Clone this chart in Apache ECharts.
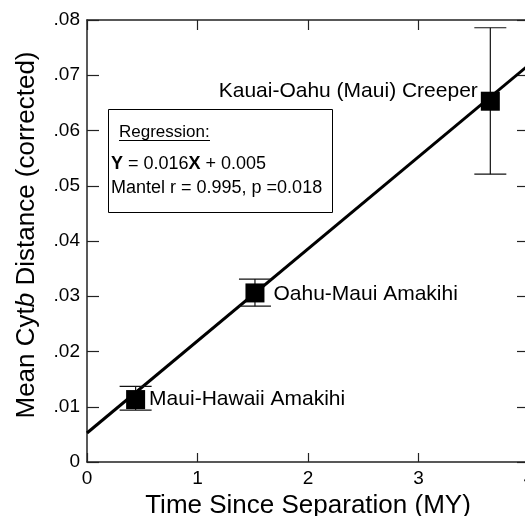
<!DOCTYPE html>
<html><head><meta charset="utf-8">
<script src="https://cdn.jsdelivr.net/npm/echarts@6/dist/echarts.min.js"></script>
<style>html,body{margin:0;padding:0;background:#fff}#c{width:525px;height:516px}</style>
</head><body><div id="c"></div>
<script>
// ---- data ----
const xTicks = [0, 1, 2, 3, 4];
const yTickLabels = ['0', '.01', '.02', '.03', '.04', '.05', '.06', '.07', '.08'];
const names = ['Maui-Hawaii Amakihi', 'Oahu-Maui Amakihi', 'Kauai-Oahu (Maui) Creeper'];
const xs = [0.44, 1.52, 3.65];
const ys = [0.0113, 0.0306, 0.0653];
const errLow = [0.0094, 0.0282, 0.0521];
const errHigh = [0.0137, 0.0331, 0.0786];
const fitX = [0, 4];
const fitY = [0.00525, 0.0719];
const regSlope = '0.016', regIntercept = '0.005', mantelR = '0.995', mantelP = '0.018';

// ---- chart ----
const FONT = '"Liberation Sans", Arial, Helvetica, sans-serif';
const INK = '#000';
const chart = echarts.init(document.getElementById('c'));
const labelCfg = [
  {position: 'right', distance: 4, offset: [0, 0]},
  {position: 'right', distance: 9, offset: [0, 1]},
  {position: 'left', distance: 3, offset: [0, -10]}
];
const axisLineStyle = {color: '#222', width: 1.5};

chart.setOption({
  animation: false,
  backgroundColor: '#fff',
  grid: {left: 87, top: 20, width: 442, height: 442, containLabel: false, outerBoundsMode: 'none'},
  xAxis: [{
    type: 'value', min: xTicks[0], max: xTicks[xTicks.length - 1], interval: 1,
    position: 'bottom',
    axisLine: {show: true, onZero: false, lineStyle: axisLineStyle},
    axisTick: {show: true, inside: true, length: 9, lineStyle: {color: '#222', width: 1.2}},
    axisLabel: {margin: 7, fontSize: 19, fontFamily: FONT, color: INK},
    splitLine: {show: false},
    name: 'Time Since Separation (MY)', nameLocation: 'middle', nameGap: 29,
    nameTextStyle: {fontSize: 26, fontFamily: FONT, color: INK}
  }, {
    type: 'value', min: xTicks[0], max: xTicks[xTicks.length - 1], interval: 1,
    position: 'top',
    axisLine: {show: true, onZero: false, lineStyle: axisLineStyle},
    axisTick: {show: true, inside: true, length: 10, lineStyle: {color: '#222', width: 1.2}},
    axisLabel: {show: false}, splitLine: {show: false}
  }],
  yAxis: [{
    type: 'value', min: 0, max: 0.08, interval: 0.01, position: 'left',
    axisLine: {show: true, onZero: false, lineStyle: axisLineStyle},
    axisTick: {show: true, inside: true, length: 12, lineStyle: {color: '#222', width: 1.2}},
    axisLabel: {
      margin: 7, fontSize: 19, fontFamily: FONT, color: INK,
      formatter: v => yTickLabels[Math.round(v * 100)]
    },
    splitLine: {show: false},
    name: 'Mean Cyt{i|b} Distance (corrected)', nameLocation: 'middle', nameGap: 47,
    nameTextStyle: {
      fontSize: 26, fontFamily: FONT, color: INK, padding: [0, 0, 0, 12],
      rich: {i: {fontStyle: 'italic', fontSize: 26, fontFamily: FONT, color: INK}}
    }
  }, {
    type: 'value', min: 0, max: 0.08, interval: 0.01, position: 'right',
    axisLine: {show: true, onZero: false, lineStyle: axisLineStyle},
    axisTick: {show: true, inside: true, length: 12, lineStyle: {color: '#222', width: 1.2}},
    axisLabel: {show: false}, splitLine: {show: false}
  }],
  series: [{
    type: 'line', xAxisIndex: 0, yAxisIndex: 0, z: 2,
    data: fitX.map((x, i) => [x, fitY[i]]),
    symbol: 'none', lineStyle: {color: '#000', width: 3}, silent: true
  }, {
    type: 'custom', xAxisIndex: 0, yAxisIndex: 0, z: 3,
    data: xs.map((x, i) => [x, errLow[i], errHigh[i]]),
    renderItem: (params, api) => {
      const x = api.value(0);
      const pLo = api.coord([x, api.value(1)]);
      const pHi = api.coord([x, api.value(2)]);
      const w = 16;
      const st = {stroke: '#111', lineWidth: 1.2};
      return {type: 'group', children: [
        {type: 'line', shape: {x1: pLo[0], y1: pLo[1], x2: pHi[0], y2: pHi[1]}, style: st},
        {type: 'line', shape: {x1: pLo[0] - w, y1: pLo[1], x2: pLo[0] + w, y2: pLo[1]}, style: st},
        {type: 'line', shape: {x1: pHi[0] - w, y1: pHi[1], x2: pHi[0] + w, y2: pHi[1]}, style: st}
      ]};
    },
    silent: true
  }, {
    type: 'scatter', xAxisIndex: 0, yAxisIndex: 0, z: 4,
    symbol: 'rect', symbolSize: 19,
    itemStyle: {color: '#000', opacity: 1},
    data: xs.map((x, i) => ({
      value: [x, ys[i]], name: names[i],
      label: Object.assign({show: true, formatter: '{b}', fontSize: 21, fontFamily: FONT, color: INK, opacity: 1}, labelCfg[i])
    })),
    silent: true
  }],
  graphic: [
    {type: 'rect', left: 108, top: 109, z: 10, shape: {width: 224, height: 103},
      style: {fill: '#fff', stroke: INK, lineWidth: 1}},
    {type: 'text', x: 119, y: 132.5, z: 11,
      style: {text: 'Regression:', fontSize: 17, fontFamily: FONT, fill: INK,
        align: 'left', verticalAlign: 'middle', textAlign: 'left', textVerticalAlign: 'middle'}},
    {type: 'line', z: 11, shape: {x1: 119, y1: 140.5, x2: 210, y2: 140.5},
      style: {stroke: INK, lineWidth: 1}},
    {type: 'text', x: 111, y: 164.5, z: 11,
      style: {text: '{b|Y} = ' + regSlope + '{b|X} + ' + regIntercept, fontSize: 18, fontFamily: FONT, fill: INK,
        align: 'left', verticalAlign: 'middle', textAlign: 'left', textVerticalAlign: 'middle',
        rich: {b: {fontWeight: 'bold', fontSize: 18, fontFamily: FONT, fill: INK, color: INK}}}},
    {type: 'text', x: 111, y: 188, z: 11,
      style: {text: 'Mantel r = ' + mantelR + ', p =' + mantelP, fontSize: 18, fontFamily: FONT, fill: INK,
        align: 'left', verticalAlign: 'middle', textAlign: 'left', textVerticalAlign: 'middle'}}
  ]
});
</script>
</body></html>
